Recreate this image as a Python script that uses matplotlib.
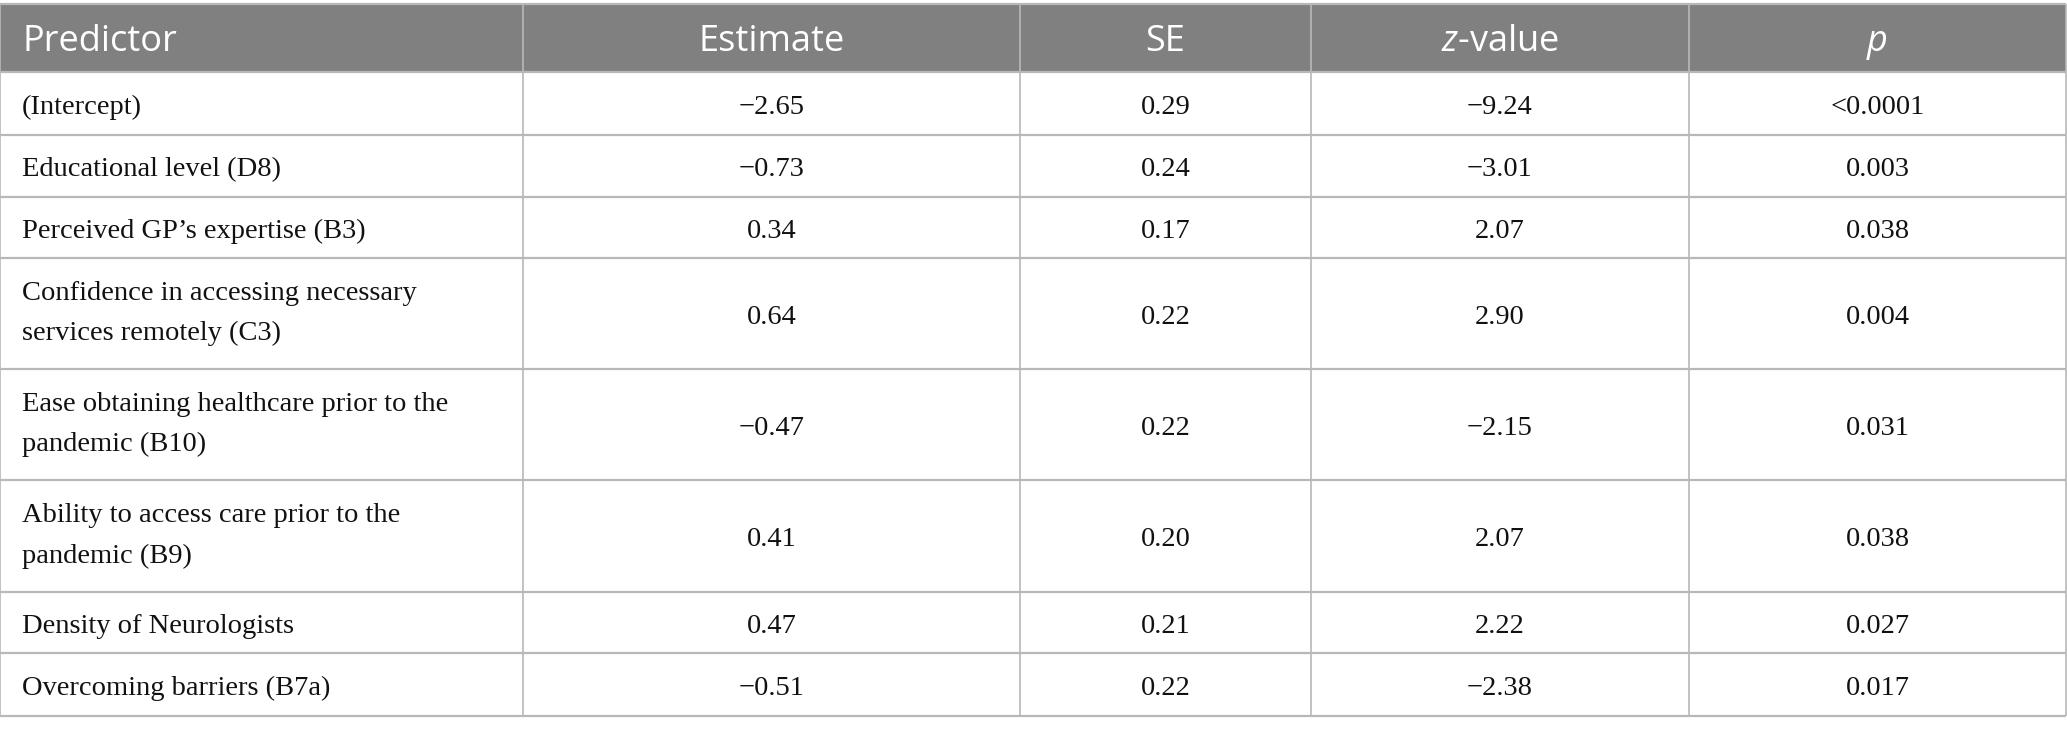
import matplotlib
matplotlib.use("Agg")
import matplotlib.pyplot as plt
from matplotlib.patches import Rectangle

plt.rcParams['mathtext.fontset'] = 'custom'
plt.rcParams['mathtext.rm'] = 'Open Sans'
plt.rcParams['mathtext.it'] = 'Open Sans:italic'

# ---- data ----
headers = ["Predictor", "Estimate", "SE", r"$z$-value", "p"]
predictors = [
    "(Intercept)",
    "Educational level (D8)",
    "Perceived GP\u2019s expertise (B3)",
    "Confidence in accessing necessary\nservices remotely (C3)",
    "Ease obtaining healthcare prior to the\npandemic (B10)",
    "Ability to access care prior to the\npandemic (B9)",
    "Density of Neurologists",
    "Overcoming barriers (B7a)",
]
estimates = ["\u22122.65", "\u22120.73", "0.34", "0.64", "\u22120.47", "0.41", "0.47", "\u22120.51"]
se_values = ["0.29", "0.24", "0.17", "0.22", "0.22", "0.20", "0.21", "0.22"]
z_values = ["\u22129.24", "\u22123.01", "2.07", "2.90", "\u22122.15", "2.07", "2.22", "\u22122.38"]
p_values = ["<0.0001", "0.003", "0.038", "0.004", "0.031", "0.038", "0.027", "0.017"]

# ---- layout (pixels) ----
W, H = 2067, 734
col_x = [0, 523, 1020, 1311, 1689, 2066]
row_y = [4, 72, 135, 197, 258, 369, 480, 592, 653, 716]

header_bg = "#808080"
line_col = "#b8b8b8"
text_col = "#111111"

fig = plt.figure(figsize=(W / 100, H / 100), dpi=100)
ax = fig.add_axes([0, 0, 1, 1])
ax.set_xlim(0, W)
ax.set_ylim(H, 0)
ax.axis("off")

# header background
ax.add_patch(Rectangle((col_x[0], row_y[0]), col_x[-1] - col_x[0], row_y[1] - row_y[0],
                       facecolor=header_bg, edgecolor="none", zorder=1))

# horizontal lines
for y in row_y:
    ax.plot([col_x[0], col_x[-1]], [y, y], color=line_col, lw=1.6, zorder=3,
            solid_capstyle="butt")
# vertical lines
for x in col_x:
    ax.plot([x, x], [row_y[0], row_y[-1]], color=line_col, lw=1.2, zorder=3,
            solid_capstyle="butt")

# header texts
hy = (row_y[0] + row_y[1]) / 2 + 4
for i, h in enumerate(headers):
    if i == 0:
        ax.text(col_x[0] + 22, hy, h, ha="left", va="center", color="white",
                fontsize=26, family="Open Sans", zorder=4)
    else:
        cx = (col_x[i] + col_x[i + 1]) / 2
        style = "italic" if h == "p" else "normal"
        ax.text(cx, hy, h, ha="center", va="center", color="white",
                fontsize=26, family="Open Sans", style=style, zorder=4)

# body
cols = [estimates, se_values, z_values, p_values]
for r, name in enumerate(predictors):
    y0, y1 = row_y[r + 1], row_y[r + 2]
    cy = (y0 + y1) / 2 + 4
    ny = cy - 4 if "\n" in name else cy
    ax.text(col_x[0] + 22, ny, name, ha="left", va="center", color=text_col,
            fontsize=20.5, family="Liberation Serif", linespacing=1.82, zorder=4)
    for c, vals in enumerate(cols):
        cx = (col_x[c + 1] + col_x[c + 2]) / 2
        ax.text(cx, cy, vals[r], ha="center", va="center", color=text_col,
                fontsize=20.5, family="Liberation Serif", zorder=4)

fig.savefig("out.png", dpi=100, facecolor="white")
